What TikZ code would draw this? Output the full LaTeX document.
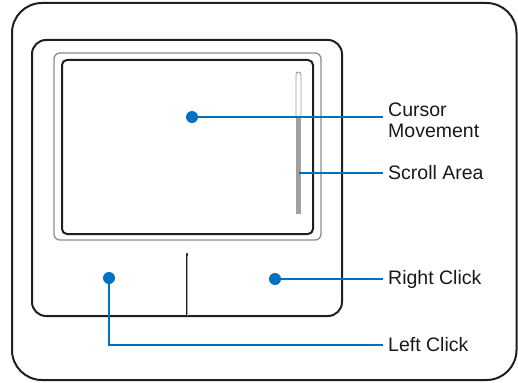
\documentclass[tikz,border=0pt]{standalone}
\usepackage{fontspec}
\setmainfont{Liberation Sans}
\definecolor{leadblue}{RGB}{0,112,192}
\definecolor{scrollgray}{RGB}{160,160,160}
\begin{document}
\begin{tikzpicture}[x=1pt,y=-1pt,
  frame/.style={draw=black!88,line width=2pt},
  lead/.style={draw=leadblue,line width=2.6pt},
  dot/.style={circle,fill=leadblue,inner sep=0pt,minimum size=12pt},
  lbl/.style={anchor=west,inner sep=0pt,align=left,font=\fontsize{19.5}{20.7}\selectfont,text=black!90}]
\useasboundingbox (0,0) rectangle (518,382);
% outer casing
\draw[frame,rounded corners=30pt] (12,3) rectangle (516.5,380);
% pad with buttons
\draw[frame,rounded corners=14pt] (32,40) rectangle (342,316);
% gray surround
\draw[draw=black!45,line width=1.3pt,rounded corners=6pt] (54,53) rectangle (321,240);
% touch surface
\draw[frame,rounded corners=5pt] (62,60) rectangle (313,234);
% scroll bar
\draw[draw=black!40,line width=0.9pt,rounded corners=2.5pt] (296,118) -- (296,72) -- (301,72) -- (301,118);
\fill[scrollgray] (295.8,118) rectangle (301.2,214);
% button divider
\draw[black!88,line width=2.8pt,line cap=round] (187,254) -- (187,316);
\draw[black!35,line width=0.6pt] (187,256) -- (187,316);
% dots
\node[dot] (cdot) at (192,117) {};
\node[dot] (rdot) at (275,279) {};
\node[dot] (ldot) at (109,278) {};
\coordinate (sdot) at (298.5,173);
\coordinate (lcorner) at (109,345);
% labels
\node[lbl] (cur) at (388,120) {Cursor\\Movement};
\node[lbl] (scr) at (388,173) {Scroll Area};
\node[lbl] (rcl) at (388,279) {Right Click};
\node[lbl] (lcl) at (388,345) {Left Click};
% leaders
\draw[lead] (cdot.center) -- ([xshift=-5pt]cdot.center -| cur.west);
\draw[lead] (sdot) -- ([xshift=-5pt]scr.west);
\draw[lead] (rdot.center) -- ([xshift=-5pt]rcl.west);
\draw[lead] (ldot.center) -- (lcorner) -- ([xshift=-5pt]lcl.west);
\end{tikzpicture}
\end{document}
